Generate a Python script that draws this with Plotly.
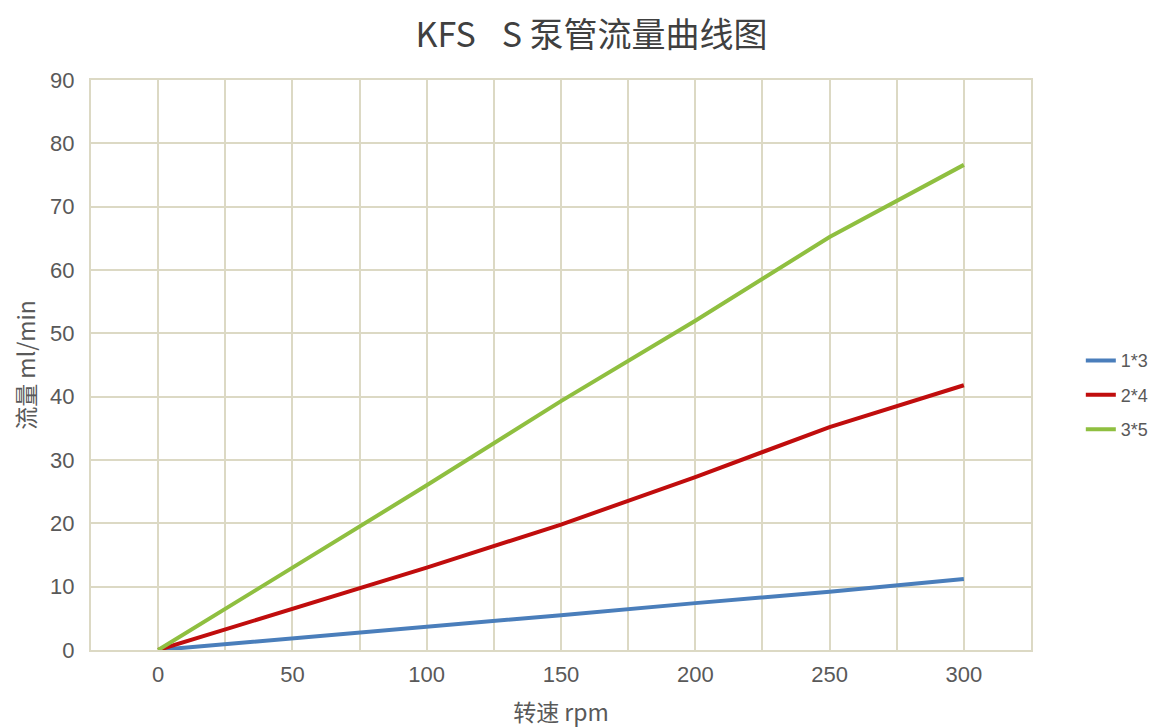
import plotly.graph_objects as go

speed_rpm = [0, 50, 100, 150, 200, 250, 300]
flow_1x3 = [0, 1.8, 3.7, 5.5, 7.4, 9.2, 11.2]
flow_2x4 = [0, 6.5, 13.0, 19.8, 27.3, 35.2, 41.8]
flow_3x5 = [0, 13.0, 26.0, 39.3, 52.0, 65.2, 76.6]
series_names = ["1*3", "2*4", "3*5"]
x_tick_vals = [0, 50, 100, 150, 200, 250, 300]

colors = ["#4a7ebb", "#c00d0d", "#8fbf40"]
grid_color = "#dcd9c4"
text_color = "#595959"
font_family = "Liberation Sans, Arial, Noto Sans CJK SC, sans-serif"
cjk_family = "Noto Sans CJK SC, Liberation Sans, sans-serif"

fig = go.Figure()
for i, (name, ys, c) in enumerate(zip(series_names, [flow_1x3, flow_2x4, flow_3x5], colors)):
    fig.add_trace(go.Scatter(x=speed_rpm, y=ys, mode="lines", name=name,
                             legendgroup=f"g{i}",
                             line=dict(color=c, width=4)))

fig.update_layout(
    width=1167, height=720,
    paper_bgcolor="white", plot_bgcolor="white",
    margin=dict(l=83, r=144, t=72, b=78, autoexpand=False),
    title=dict(text="KFS\u2002\u2009\u200aS 泵管流量曲线图", x=0.5, xanchor="center",
               y=1 - 27 / 720, yanchor="middle",
               font=dict(family=cjk_family, size=34, color="#404040")),
    font=dict(family=font_family, color=text_color),
    legend=dict(x=1.053, xanchor="left", y=0.447, yanchor="middle",
                font=dict(size=18, color=text_color, family=font_family),
                itemwidth=30, traceorder="grouped", tracegroupgap=8,
                bgcolor="rgba(0,0,0,0)"),
    showlegend=True,
)

fig.update_xaxes(
    range=[-25, 325], tickmode="array", tickvals=x_tick_vals,
    showgrid=True, gridcolor=grid_color, gridwidth=2,
    minor=dict(dtick=25, tick0=0, showgrid=True, gridcolor=grid_color, gridwidth=2),
    showline=True, mirror=True, linecolor=grid_color, linewidth=2,
    zeroline=False, ticks="", ticklabelstandoff=4, automargin=False,
    tickfont=dict(size=22, color=text_color),
    title=dict(text="转速 rpm", standoff=18,
               font=dict(size=23, color=text_color, family=cjk_family)),
)
fig.update_yaxes(
    range=[0, 90], dtick=10, tick0=0,
    showgrid=True, gridcolor=grid_color, gridwidth=2,
    showline=True, mirror=True, linecolor=grid_color, linewidth=2,
    zeroline=False, ticks="", ticklabelstandoff=10, automargin=False,
    tickfont=dict(size=22, color=text_color),
    title=dict(text="流量 ml/min", standoff=28,
               font=dict(size=23, color=text_color, family=cjk_family)),
)

fig.write_html("out.html")
